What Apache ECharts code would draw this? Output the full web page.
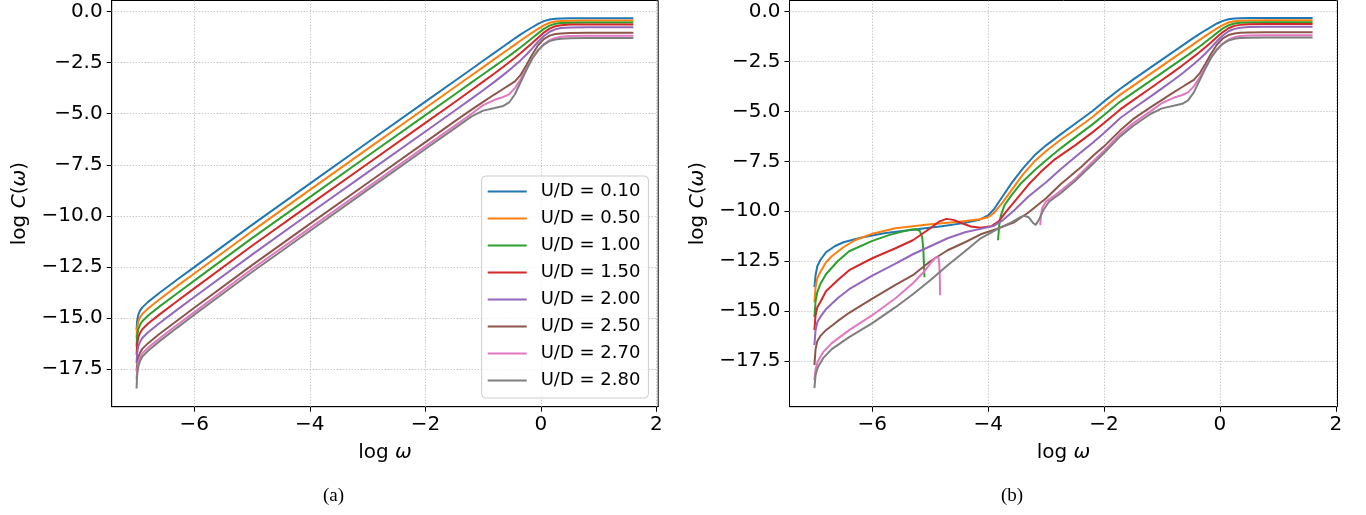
<!DOCTYPE html>
<html>
<head>
<meta charset="utf-8">
<script src="https://cdn.jsdelivr.net/npm/echarts@6/dist/echarts.min.js"></script>
<style>
  html, body { margin: 0; padding: 0; background: #fff; }
  #chart { width: 1366px; height: 515px; }
</style>
</head>
<body>
<div id="chart"></div>
<script>
// ---- data ----
const seriesNames = ['U/D = 0.10', 'U/D = 0.50', 'U/D = 1.00', 'U/D = 1.50',
                     'U/D = 2.00', 'U/D = 2.50', 'U/D = 2.70', 'U/D = 2.80'];
const xTicks = [-6, -4, -2, 0, 2];
const yTicks = [0, -2.5, -5, -7.5, -10, -12.5, -15, -17.5];

// panel (a): shared log(omega) grid
const logW = [-7, -6.99, -6.97, -6.94, -6.9, -6.8, -6.6, -6.3, -6, -5, -4, -3, -2, -1.5, -1.2, -1,
              -0.8, -0.65, -0.55, -0.45, -0.35, -0.25, -0.15, -0.05, 0.05, 0.15, 0.25, 0.35, 0.5, 0.8, 1.6];
const blueA   = [-15.6, -15.14, -14.85, -14.64, -14.48, -14.21, -13.76, -13.13, -12.51, -10.44, -8.42, -6.41, -4.41, -3.41, -2.81, -2.41, -2.01, -1.71, -1.51, -1.31, -1.12, -0.94, -0.77, -0.6, -0.47, -0.39, -0.355, -0.34, -0.33, -0.33, -0.33];
const orangeA = [-16.0, -15.48, -15.18, -14.97, -14.80, -14.53, -14.08, -13.44, -12.82, -10.75, -8.73, -6.72, -4.72, -3.72, -3.12, -2.72, -2.32, -2.02, -1.82, -1.62, -1.42, -1.22, -1.03, -0.85, -0.68, -0.55, -0.485, -0.46, -0.445, -0.44, -0.44];
const greenA  = [-16.4, -15.87, -15.55, -15.33, -15.16, -14.88, -14.43, -13.80, -13.17, -11.09, -9.08, -7.07, -5.07, -4.07, -3.47, -3.07, -2.67, -2.37, -2.17, -1.96, -1.75, -1.53, -1.3, -1.07, -0.85, -0.69, -0.6, -0.565, -0.545, -0.54, -0.54];
const redA    = [-16.8, -16.28, -15.95, -15.73, -15.55, -15.27, -14.82, -14.18, -13.55, -11.46, -9.45, -7.45, -5.45, -4.45, -3.84, -3.43, -3.02, -2.7, -2.48, -2.26, -2.03, -1.79, -1.54, -1.28, -1.03, -0.84, -0.72, -0.67, -0.64, -0.63, -0.63];
const purpleA = [-17.2, -16.73, -16.39, -16.17, -15.98, -15.70, -15.24, -14.60, -13.97, -11.9, -9.87, -7.87, -5.87, -4.87, -4.26, -3.85, -3.43, -3.1, -2.87, -2.63, -2.38, -2.1, -1.8, -1.48, -1.2, -0.99, -0.87, -0.81, -0.78, -0.77, -0.77];
const brownA  = [-17.6, -17.29, -16.93, -16.70, -16.51, -16.23, -15.77, -15.13, -14.50, -12.41, -10.39, -8.39, -6.39, -5.39, -4.8, -4.42, -4.05, -3.78, -3.6, -3.42, -3.1, -2.62, -2.1, -1.65, -1.35, -1.18, -1.1, -1.07, -1.05, -1.04, -1.04];
const pinkA   = [-18.0, -17.53, -17.16, -16.93, -16.73, -16.45, -15.99, -15.34, -14.71, -12.6, -10.6, -8.6, -6.6, -5.6, -5.0, -4.58, -4.32, -4.18, -4.05, -3.75, -3.3, -2.8, -2.3, -1.9, -1.6, -1.4, -1.29, -1.23, -1.2, -1.19, -1.19];
const grayA   = [-18.45, -17.81, -17.37, -17.11, -16.89, -16.60, -16.13, -15.48, -14.84, -12.75, -10.74, -8.73, -6.73, -5.73, -5.13, -4.85, -4.72, -4.62, -4.45, -4.05, -3.45, -2.85, -2.3, -1.9, -1.62, -1.45, -1.37, -1.33, -1.31, -1.30, -1.30];

// panel (b): low-frequency parts (x < -1.5); above that the curves follow panel (a)
const blueB = [[-7.0,-13.8],[-6.98,-13.2],[-6.95,-12.75],[-6.9,-12.45],[-6.8,-12.05],[-6.65,-11.75],[-6.5,-11.55],[-6.2,-11.32],[-5.8,-11.1],[-5.3,-10.92],[-4.8,-10.75],[-4.4,-10.58],[-4.15,-10.42],[-4.0,-10.2],[-3.9,-9.9],[-3.75,-9.25],[-3.6,-8.6],[-3.4,-7.85],[-3.2,-7.2],[-3.0,-6.7],[-2.75,-6.15],[-2.5,-5.62],[-2.2,-4.98],[-2.0,-4.5],[-1.72,-3.87]];
const orangeB = [[-7.0,-14.55],[-6.98,-13.8],[-6.95,-13.35],[-6.9,-13.05],[-6.8,-12.55],[-6.7,-12.25],[-6.5,-11.8],[-6.3,-11.45],[-6.0,-11.12],[-5.6,-10.85],[-5.0,-10.65],[-4.5,-10.52],[-4.15,-10.4],[-4.0,-10.3],[-3.9,-10.08],[-3.75,-9.55],[-3.6,-8.95],[-3.4,-8.15],[-3.2,-7.5],[-3.0,-6.98],[-2.75,-6.42],[-2.5,-5.92],[-2.2,-5.28],[-2.0,-4.8],[-1.72,-4.16]];
const greenB1 = [[-7.0,-15.3],[-6.98,-14.5],[-6.95,-14.05],[-6.9,-13.65],[-6.8,-13.15],[-6.6,-12.5],[-6.4,-12.0],[-6.0,-11.48],[-5.7,-11.18],[-5.5,-11.03],[-5.35,-10.92],[-5.25,-10.9],[-5.18,-10.98],[-5.14,-11.3],[-5.12,-11.9],[-5.10,-13.3]];
const greenB2 = [[-3.83,-11.45],[-3.81,-10.7],[-3.78,-10.2],[-3.72,-9.7],[-3.6,-9.2],[-3.45,-8.65],[-3.2,-7.95],[-3.0,-7.45],[-2.75,-6.85],[-2.5,-6.3],[-2.2,-5.65],[-2.0,-5.18],[-1.72,-4.51]];
const redB = [[-7.0,-15.95],[-6.98,-15.2],[-6.95,-14.8],[-6.9,-14.55],[-6.8,-14.0],[-6.6,-13.45],[-6.4,-12.95],[-6.0,-12.35],[-5.6,-11.85],[-5.3,-11.45],[-5.0,-10.85],[-4.85,-10.52],[-4.72,-10.38],[-4.6,-10.43],[-4.45,-10.6],[-4.3,-10.76],[-4.13,-10.82],[-3.95,-10.75],[-3.82,-10.5],[-3.7,-10.05],[-3.5,-9.35],[-3.3,-8.65],[-3.1,-8.05],[-2.85,-7.4],[-2.5,-6.7],[-2.2,-6.05],[-2.0,-5.58],[-1.72,-4.9]];
const purpleB = [[-7.0,-16.7],[-6.98,-15.95],[-6.95,-15.55],[-6.9,-15.3],[-6.8,-14.9],[-6.6,-14.35],[-6.4,-13.9],[-6.0,-13.22],[-5.6,-12.62],[-5.3,-12.15],[-5.0,-11.75],[-4.7,-11.35],[-4.4,-11.05],[-4.13,-10.88],[-3.9,-10.72],[-3.75,-10.45],[-3.55,-9.95],[-3.3,-9.25],[-3.0,-8.55],[-2.75,-7.9],[-2.4,-7.05],[-2.2,-6.58],[-2.0,-6.08],[-1.72,-5.33]];
const brownB = [[-7.0,-17.7],[-6.98,-16.9],[-6.95,-16.5],[-6.9,-16.25],[-6.8,-15.95],[-6.6,-15.5],[-6.4,-15.08],[-6.0,-14.37],[-5.6,-13.68],[-5.3,-13.2],[-5.0,-12.5],[-4.7,-11.95],[-4.4,-11.55],[-4.13,-11.15],[-3.85,-10.88],[-3.55,-10.55],[-3.3,-10.05],[-3.0,-9.35],[-2.75,-8.65],[-2.4,-7.8],[-2.18,-7.2],[-2.0,-6.75],[-1.72,-5.95]];
const pinkB1 = [[-7.0,-18.45],[-6.98,-17.9],[-6.94,-17.5],[-6.85,-17.05],[-6.7,-16.6],[-6.4,-15.95],[-6.0,-15.2],[-5.6,-14.35],[-5.3,-13.6],[-5.1,-13.0],[-4.98,-12.55],[-4.9,-12.3],[-4.86,-12.3],[-4.845,-12.6],[-4.835,-13.3],[-4.83,-14.2]];
const pinkB2 = [[-3.10,-10.7],[-3.09,-10.2],[-3.07,-9.85],[-3.0,-9.5],[-2.85,-9.2],[-2.75,-8.97],[-2.5,-8.38],[-2.18,-7.47],[-2.0,-6.97],[-1.72,-6.12]];
const grayB = [[-7.0,-18.85],[-6.98,-18.2],[-6.94,-17.8],[-6.85,-17.35],[-6.7,-16.9],[-6.4,-16.3],[-6.0,-15.6],[-5.6,-14.8],[-5.3,-14.15],[-5.0,-13.45],[-4.7,-12.7],[-4.4,-12.0],[-4.13,-11.35],[-3.85,-10.9],[-3.6,-10.55],[-3.45,-10.3],[-3.38,-10.22],[-3.3,-10.3],[-3.22,-10.6],[-3.18,-10.68],[-3.12,-10.4],[-3.05,-9.95],[-2.95,-9.52],[-2.75,-9.1],[-2.5,-8.48],[-2.18,-7.6],[-2.0,-7.08],[-1.72,-6.25]];

// ---- styling ----
const COLORS = ['#1f77b4', '#ff7f0e', '#2ca02c', '#d62728', '#9467bd', '#8c564b', '#e377c2', '#7f7f7f'];
const FONT = 'DejaVu Sans';
const SPLIT = 13; // index of x = -1.5 in logW

function zip(xs, ys) {
    return xs.map((x, i) => [x, ys[i]]);
}
function fmt(v, digits) {
    const s = Math.abs(v).toFixed(digits);
    return v < 0 ? '\u2212' + s : s;
}

const panelA = [blueA, orangeA, greenA, redA, purpleA, brownA, pinkA, grayA].map(ys => zip(logW, ys));
const tailOf = i => panelA[i].slice(SPLIT);
const panelB = [
    [0, blueB.concat(tailOf(0))],
    [1, orangeB.concat(tailOf(1))],
    [2, greenB1],
    [2, greenB2.concat(tailOf(2))],
    [3, redB.concat(tailOf(3))],
    [4, purpleB.concat(tailOf(4))],
    [5, brownB.concat(tailOf(5))],
    [6, pinkB1],
    [6, pinkB2.concat(tailOf(6))],
    [7, grayB.concat(tailOf(7))],
];

const nameRich = {
    n: { fontFamily: FONT, fontSize: 20, color: '#000' },
    i: { fontFamily: FONT, fontSize: 20, color: '#000', fontStyle: 'italic' },
};

function xAxisFor(idx) {
    return {
        type: 'value', gridIndex: idx, min: -7.43, max: 2.03,
        axisLine: { show: true, onZero: false, lineStyle: { color: '#000', width: 1 } },
        axisTick: { show: true, length: 5, customValues: xTicks, lineStyle: { color: '#000', width: 1 } },
        axisLabel: { show: true, customValues: xTicks, formatter: v => fmt(v, 0),
                     color: '#000', fontFamily: FONT, fontSize: 20, margin: 8 },
        splitLine: { show: false },
        name: '{n|log }{i|ω}', nameLocation: 'middle', nameGap: 36,
        nameTextStyle: { rich: nameRich },
    };
}
function yAxisFor(idx, min, max) {
    return {
        type: 'value', gridIndex: idx, min: min, max: max,
        axisLine: { show: true, onZero: false, lineStyle: { color: '#000', width: 1 } },
        axisTick: { show: true, length: 5, customValues: yTicks, lineStyle: { color: '#000', width: 1 } },
        axisLabel: { show: true, customValues: yTicks, formatter: v => fmt(v, 1),
                     color: '#000', fontFamily: FONT, fontSize: 20, margin: 9 },
        splitLine: { show: false },
        name: '{n|log }{i|C}{n|(}{i|ω}{n|)}', nameLocation: 'middle', nameGap: 82,
        nameTextStyle: { rich: nameRich },
    };
}
function gridLines() {
    return {
        silent: true, symbol: ['none', 'none'], z: 1,
        label: { show: false },
        lineStyle: { type: [1, 2], color: '#b0b0b0', width: 1 },
        data: xTicks.map(v => ({ xAxis: v })).concat(yTicks.map(v => ({ yAxis: v }))),
    };
}
function lineSeries(data, colorIdx, axisIdx, name) {
    return {
        type: 'line', name: name, data: data,
        xAxisIndex: axisIdx, yAxisIndex: axisIdx,
        showSymbol: false, symbol: 'none', z: 3,
        color: COLORS[colorIdx],
        lineStyle: { width: 2, color: COLORS[colorIdx] },
        animation: false,
    };
}

const series = [];
panelA.forEach((d, i) => series.push(lineSeries(d, i, 0, seriesNames[i])));
panelB.forEach(([ci, d]) => series.push(lineSeries(d, ci, 1)));
series[0].markLine = gridLines();
series[8].markLine = gridLines();

const chart = echarts.init(document.getElementById('chart'), null, { renderer: 'canvas' });
chart.setOption({
    animation: false,
    backgroundColor: '#fff',
    grid: [
        { left: 111.7, top: 0.5, width: 546.5, height: 406.2, show: true, borderColor: '#000', borderWidth: 1 },
        { left: 789.5, top: 0.5, width: 548, height: 406.2, show: true, borderColor: '#000', borderWidth: 1 },
    ],
    xAxis: [xAxisFor(0), xAxisFor(1)],
    yAxis: [yAxisFor(0, -19.34, 0.54), yAxisFor(1, -19.78, 0.55)],
    legend: {
        data: seriesNames, orient: 'vertical', left: 481.7, top: 176,
        icon: 'rect', itemWidth: 39, itemHeight: 2, itemGap: 0,
        padding: [2, 8, 4, 6],
        backgroundColor: 'rgba(255,255,255,0.8)', borderColor: '#cccccc', borderWidth: 1, borderRadius: 4,
        textStyle: { fontFamily: FONT, fontSize: 18, color: '#000', lineHeight: 27, padding: [0, 0, 0, 9] },
        selectedMode: false,
    },
    graphic: [
        { type: 'text', left: 323, top: 487, style: { text: '(a)', font: '19px "Liberation Serif"', fill: '#000' } },
        { type: 'text', left: 1001, top: 487, style: { text: '(b)', font: '19px "Liberation Serif"', fill: '#000' } },
    ],
    series: series,
});
</script>
</body>
</html>
